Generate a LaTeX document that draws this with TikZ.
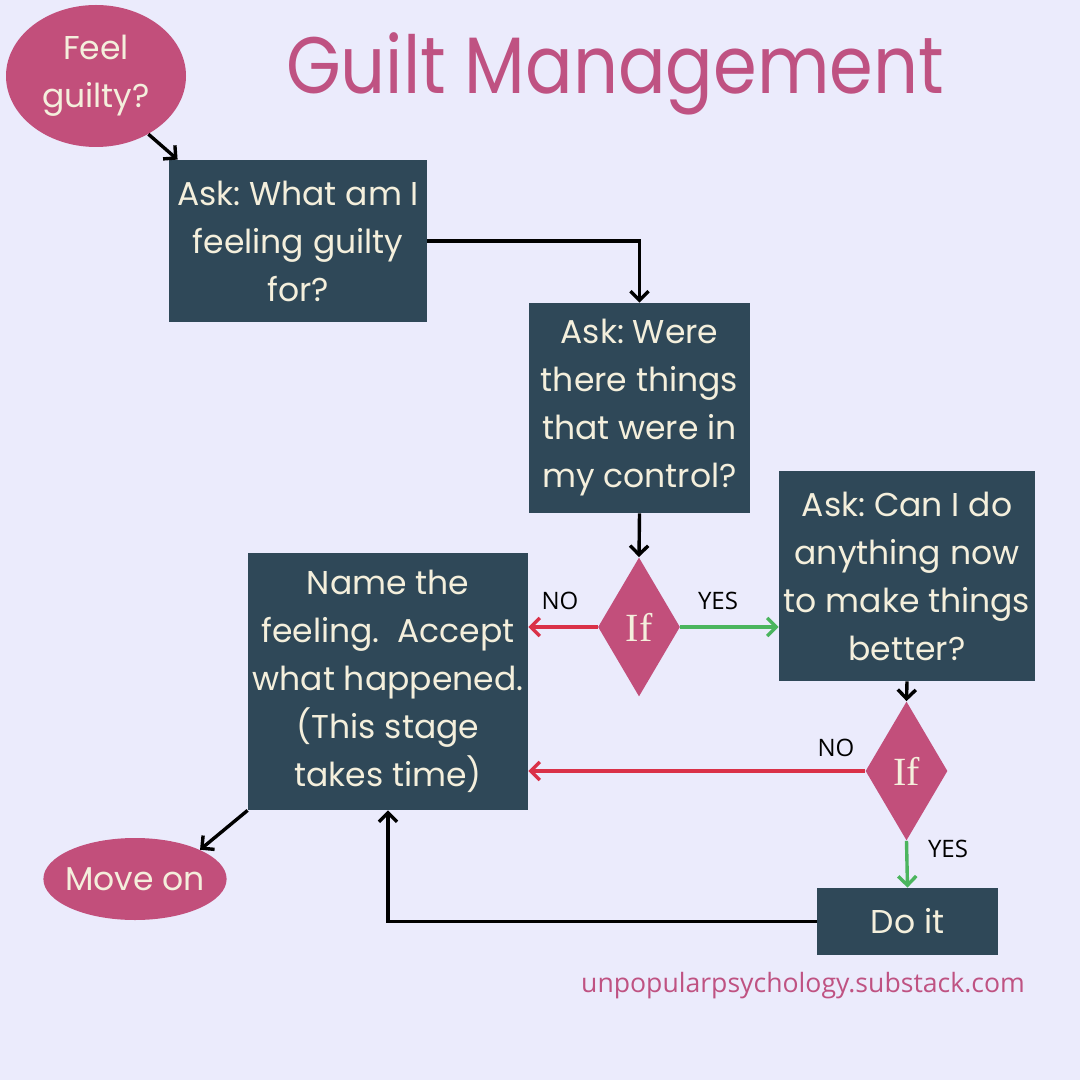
\documentclass[tikz,border=0pt]{standalone}
\usepackage{fontspec}
\setmainfont{Poppins}
\newfontfamily\titlefont{Poppins}[FakeStretch=0.88]
\newfontfamily\labelfont{Open Sans}
\newfontfamily\iffont{Liberation Serif}
\usetikzlibrary{shapes.geometric,arrows.meta,positioning,calc}
\definecolor{bgcol}{HTML}{EBEBFC}
\definecolor{pink}{HTML}{C24F7B}
\definecolor{titlepink}{HTML}{BF5282}
\definecolor{slate}{HTML}{2F4858}
\definecolor{cream}{HTML}{F4EFDC}
\definecolor{nored}{HTML}{DA3148}
\definecolor{yesgreen}{HTML}{4BB55E}
\frenchspacing

\begin{document}
\begin{tikzpicture}[x=0.5pt,y=-0.5pt,
  box/.style={rectangle, fill=slate, text=cream, align=center, inner sep=0pt, font=\fontsize{16.5}{24}\selectfont},
  oval/.style={ellipse, fill=pink, text=cream, align=center, inner sep=0pt, font=\fontsize{16.5}{24}\selectfont},
  cond/.style={diamond, fill=pink, text=cream, inner sep=0pt, minimum width=41pt, minimum height=69.5pt, font=\iffont\fontsize{20}{24}\selectfont},
  arr/.style={-{Straight Barb[length=4.5pt,width=9pt]}, line width=1.7pt},
  lbl/.style={font=\labelfont\fontsize{12}{14}\selectfont, text=black}]
\fill[bgcol] (0,0) rectangle (1080,1080);
\useasboundingbox (0,0) rectangle (1080,1080);

% Titolo
\node[text=titlepink, font=\titlefont\fontsize{40}{50}\selectfont] (title) at (615,74) {Guilt Management};

% Domande
\node[oval, minimum width=90pt, minimum height=71pt] (feel) at (96,76) {Feel\\guilty?};
\node[box, minimum width=129pt, minimum height=81pt] (ask1) at (298,241) {Ask: What am I\\feeling guilty\\for?};
\node[box, minimum width=110.5pt, minimum height=105pt] (ask2) at (639.5,408) {Ask: Were\\there things\\that were in\\my control?};
\node[cond] (if1) at (639,627) {If};
\node[box, minimum width=140pt, minimum height=128.5pt] (accept) at (388,681.5) {Name the\\feeling.\ \ Accept\\what happened.\\(This stage\\takes time)};
\node[box, minimum width=128pt, minimum height=105pt] (ask3) at (907,576) {Ask: Can I do\\anything now\\to make things\\better?};
\node[cond] (if2) at (906.5,771) {If};
\node[box, minimum width=90.5pt, minimum height=33.5pt] (doit) at (907.5,921.5) {Do it};
\node[oval, inner xsep=-2.5pt, minimum width=90pt, minimum height=41pt] (moveon) at (135,879) {Move on};
\node[text=titlepink, font=\labelfont\fontsize{13.3}{15}\selectfont] (url) at (803,986) {unpopularpsychology.substack.com};

% Frecce
\draw[arr] (feel.-48) -- ($(ask1.north west)+(9,0)$);
\draw[arr] (ask1.east) -| (ask2.north);
\draw[arr] (ask2.south) -- (if1.north);
\draw[arr, nored] (if1.west) -- (accept.east |- if1.west);
\draw[arr, yesgreen] (if1.east) -- (ask3.west |- if1.east);
\node[lbl] (no1) at (560,601) {NO};
\node[lbl] (yes1) at (718,601) {YES};
\draw[arr] (ask3.south) -- (if2.north);
\draw[arr, nored] (if2.west) -- (accept.east |- if2.west);
\node[lbl] (no2) at (836,748) {NO};
\draw[arr, yesgreen] (if2.south) -- (doit.north);
\node[lbl] (yes2) at (948,849) {YES};
\draw[arr] (doit.west) -| (accept.south);
\draw[arr] (accept.south west) -- (moveon.north east);
\end{tikzpicture}
\end{document}
